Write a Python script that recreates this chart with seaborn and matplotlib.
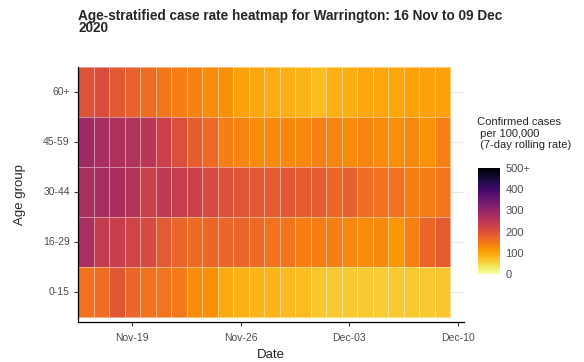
import numpy as np
import pandas as pd
import matplotlib
matplotlib.use("Agg")
import matplotlib.pyplot as plt
import seaborn as sns

sns.set_style("white")
plt.rcParams['font.family'] = ['Liberation Sans', 'DejaVu Sans']

age_groups = ["60+", "45-59", "30-44", "16-29", "0-15"]
start_date = "2020-11-16"
n_days = 24
tick_dates = ["2020-11-19", "2020-11-26", "2020-12-03", "2020-12-10"]
tick_labels = ["Nov-19", "Nov-26", "Dec-03", "Dec-10"]

rate_60p = [198, 206, 188, 176, 164, 152, 142, 138, 126, 123, 104, 97, 92, 90, 84, 78, 88, 90, 96, 99, 99, 104, 104, 104]
rate_45_59 = [285, 274, 268, 262, 250, 228, 203, 180, 165, 142, 136, 128, 130, 132, 132, 140, 135, 127, 136, 127, 124, 132, 120, 140]
rate_30_44 = [270, 277, 274, 258, 228, 243, 236, 228, 212, 200, 192, 190, 186, 190, 187, 185, 170, 178, 164, 157, 157, 142, 143, 152]
rate_16_29 = [270, 240, 234, 222, 212, 186, 172, 166, 168, 170, 172, 165, 158, 153, 142, 142, 142, 132, 127, 130, 115, 140, 170, 186]
rate_0_15 = [158, 163, 192, 170, 158, 153, 148, 125, 122, 95, 88, 84, 84, 78, 78, 67, 64, 63, 64, 62, 63, 64, 64, 67]

dates = pd.date_range(start_date, periods=n_days)
data = pd.DataFrame([rate_60p, rate_45_59, rate_30_44, rate_16_29, rate_0_15],
                    index=age_groups, columns=dates)

fig = plt.figure(figsize=(5.84, 3.62), dpi=100)
ax = fig.add_axes([0.1336, 0.1105, 0.661, 0.704])
cax = fig.add_axes([0.8185, 0.243, 0.0377, 0.293])

sns.heatmap(data, ax=ax, cbar_ax=cax, cmap="inferno_r", vmin=0, vmax=500,
            linewidths=0.4, linecolor=(1, 1, 1, 0.45))

# gridlines (behind heatmap)
ax.set_axisbelow(True)
for i in range(len(age_groups)):
    ax.axhline(i + 0.5, color="#EBEBEB", lw=0.8, zorder=0)

ax.set_xlim(0, 24.9)
ax.set_ylim(5.1, 0)

tick_pos = [(pd.Timestamp(d) - pd.Timestamp(start_date)).days + 0.5 for d in tick_dates]
ax.set_xticks(tick_pos)
ax.set_xticklabels(tick_labels, rotation=0)
ax.set_yticks(np.arange(len(age_groups)) + 0.5)
ax.set_yticklabels(age_groups, rotation=0)
ax.tick_params(axis="both", labelsize=7.5, labelcolor="#4D4D4D", color="#333333",
               length=3, width=0.8, left=True, bottom=True, pad=3)
ax.tick_params(axis="x", pad=5)

for side in ["top", "right"]:
    ax.spines[side].set_visible(False)
for side in ["left", "bottom"]:
    ax.spines[side].set_visible(True)
    ax.spines[side].set_color("black")
    ax.spines[side].set_linewidth(0.9)

ax.set_xlabel("Date", fontsize=9.5, labelpad=4)
ax.set_ylabel("Age group", fontsize=9.5, labelpad=12)

fig.text(0.1336, 0.975, "Age-stratified case rate heatmap for Warrington: 16 Nov to 09 Dec\n2020",
         fontsize=9.8, fontweight="bold", ha="left", va="top", linespacing=0.85)

# colorbar styling
cax.set_yticks([0, 100, 200, 300, 400, 500])
cax.set_yticklabels(["0", "100", "200", "300", "400", "500+"])
cax.tick_params(axis="y", labelsize=8, labelcolor="#4D4D4D", color="white",
                direction="in", length=4, width=0.6, left=True, right=True, pad=4)
for s in cax.spines.values():
    s.set_visible(False)

fig.text(0.817, 0.585, "Confirmed cases\n per 100,000\n (7-day rolling rate)",
         fontsize=8, ha="left", va="bottom", linespacing=1.2)

fig.savefig("out.png", dpi=100)
